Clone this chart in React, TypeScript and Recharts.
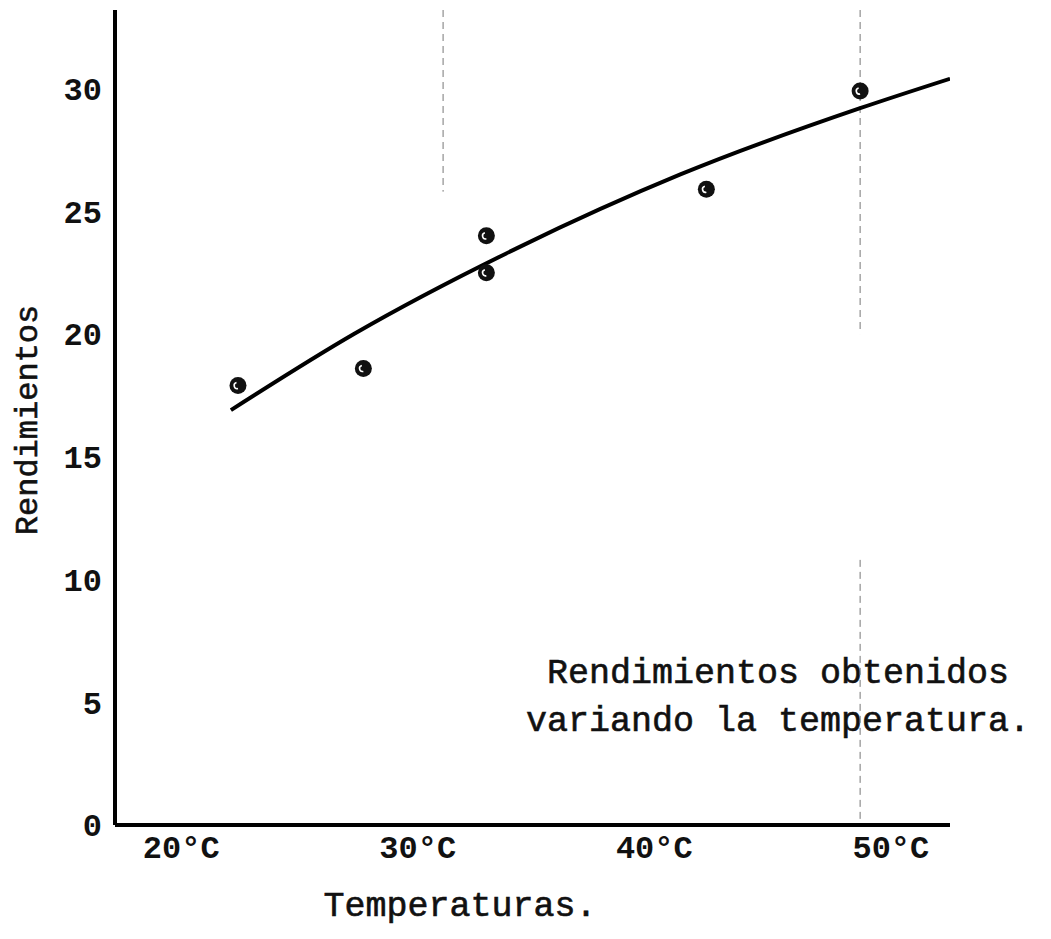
import React from 'react';
import { ComposedChart, Scatter, Line, XAxis, YAxis, Customized, ReferenceLine } from 'recharts';

// Measured points (temperature °C, yield)
const pointTemps = [22.4, 27.7, 32.9, 32.9, 42.2, 48.7];
const pointYields = [17.9, 18.6, 24.0, 22.5, 25.9, 29.9];

// Hand-drawn fitted curve
const curveTemps = [22.1, 27.3, 34.2, 41.1, 48.7, 52.5];
const curveYields = [16.9, 20.0, 23.5, 26.5, 29.2, 30.4];

const xTicks = [20, 30, 40, 50];
const yTicks = [0, 5, 10, 15, 20, 25, 30];
const xDomain = [17.2, 52.5];
const yDomain = [0, 33.2];

// faint fold/scan lines seen on the page: [x, yFrom, yTo]
const foldLines = [
  [31.07, 33.2, 25.8],
  [48.7, 33.2, 20.0],
  [48.7, 10.8, 0],
];

const curveData = curveTemps.map((t, i) => ({ t, r: curveYields[i] }));
const pointData = pointTemps.map((t, i) => ({ t, r: pointYields[i] }));

const FONT = '"Liberation Mono", "Courier New", monospace';

const Dot = (props: any) => {
  const { cx, cy } = props;
  if (cx == null || cy == null) return null;
  return (
    <g>
      <circle cx={cx} cy={cy} r={8.5} fill="#111" />
      <path d={`M ${cx - 1.5} ${cy - 3} a 3 3 0 0 0 1.5 6`} stroke="#fff" strokeWidth={1.6} fill="none" />
    </g>
  );
};

const Texts = () => (
  <g fontFamily={FONT} fill="#111" stroke="#111" strokeWidth={0.6}>
    <text x={28} y={420} fontSize={32} textAnchor="middle" dominantBaseline="central" transform="rotate(-90, 28, 420)">
      Rendimientos
    </text>
    <text x={460} y={916} fontSize={35} textAnchor="middle">
      Temperaturas.
    </text>
    <text x={778} y={683} fontSize={35} textAnchor="middle">
      Rendimientos obtenidos
    </text>
    <text x={778} y={731} fontSize={35} textAnchor="middle">
      variando la temperatura.
    </text>
  </g>
);

export default function App() {
  return (
    <div style={{ position: 'absolute', left: 0, top: 0, width: 1051, height: 939, background: '#fff' }}>
      <ComposedChart width={1051} height={939} data={curveData} margin={{ top: 10, right: 101, left: 0, bottom: 0 }}>
        <XAxis
          type="number"
          dataKey="t"
          domain={xDomain}
          ticks={xTicks}
          allowDataOverflow
          tickFormatter={(v: number) => `${v}°C`}
          axisLine={{ stroke: '#000', strokeWidth: 4 }}
          tickLine={false}
          tickMargin={4}
          tick={{ fill: '#111', fontSize: 32, fontFamily: FONT, fontWeight: 'bold' }}
          height={114}
        />
        <YAxis
          type="number"
          dataKey="r"
          domain={yDomain}
          ticks={yTicks}
          allowDataOverflow
          axisLine={{ stroke: '#000', strokeWidth: 4 }}
          tickLine={false}
          tickMargin={7}
          tick={{ fill: '#111', fontSize: 32, fontFamily: FONT, fontWeight: 'bold' }}
          width={115}
        />
        {foldLines.map((f, i) => (
          <ReferenceLine
            key={i}
            segment={[{ x: f[0], y: f[1] }, { x: f[0], y: f[2] }]}
            stroke="#777"
            strokeWidth={1}
            strokeDasharray="7 5"
            ifOverflow="visible"
          />
        ))}
        <Line
          type="monotone"
          dataKey="r"
          stroke="#000"
          strokeWidth={4}
          dot={false}
          activeDot={false}
          isAnimationActive={false}
        />
        <Scatter data={pointData} dataKey="r" shape={<Dot />} isAnimationActive={false} />
        <Customized component={Texts} />
      </ComposedChart>
    </div>
  );
}
